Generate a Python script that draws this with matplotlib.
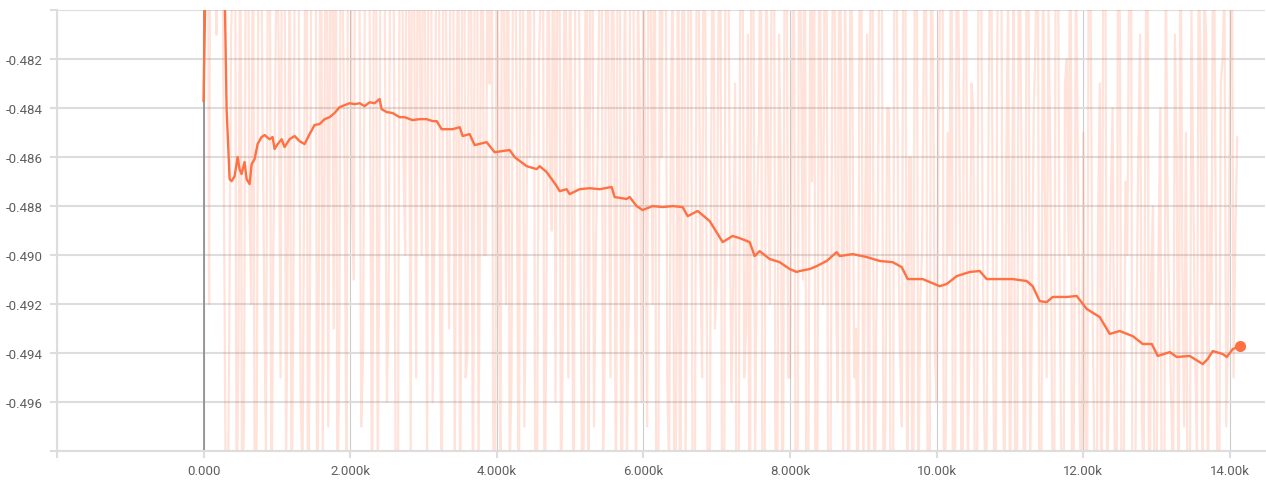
import numpy as np
import matplotlib.pyplot as plt

# --- dados: passo de treino e valor (milésimos) ---
# serie bruta (muito ruidosa), passos 0, 50, 100, ...
raw_milli_a = [
    -483.7, -462, -466, -470, -468, -473, -499, -493, -478, -501, -474, -497, -471, -492, -505, -476, -483, -498, -472, -490,
    -476, -495, -470, -489, -502, -473, -481, -499, -468, -492, -478, -503, -471, -486, -497, -474, -469, -494, -480, -500,
    -472, -491, -466, -497, -479, -470, -502, -475, -488, -468, -496, -473, -483, -500, -470, -490, -477, -466, -495, -481,
    -470, -498, -474, -489, -467, -501, -478, -493, -472, -485, -503, -469, -494, -480, -476, -499, -471, -490, -483, -497,
    -473, -500, -481, -469, -495, -477, -504, -472, -491, -486, -470, -498, -479, -502, -474, -489, -496, -471, -493, -482,
    -476, -501, -470, -494, -485, -503, -472, -490, -479, -499, -468, -495, -483, -474, -506, -477, -492, -471, -500, -484,
    -475, -497, -480, -470, -503, -486, -473, -499, -478, -494, -507, -472, -489, -481, -500, -476, -495, -484, -502, -474,
    -491, -478, -504, -472, -496, -483, -500, -475, -493, -507, -479, -488, -473, -502, -486, -477, -498, -481, -505, -474,
    -495, -476, -503, -482, -471, -498, -487, -505, -474, -492, -480, -501, -472, -496, -485, -478, -506, -483, -493, -475,
    -499, -481, -473, -504, -488, -477, -497, -484, -508, -476, -494, -471, -502, -486, -479, -500, -490, -474, -505, -482,
    -496, -478, -503, -485, -472, -499, -481, -507, -476, -493, -484, -501, -475, -497, -488, -480, -505, -473, -494, -486,
    -502, -479, -497, -484, -506, -475, -492, -481, -500, -477, -495, -486, -504, -474, -498, -483, -490, -507, -478, -496,
    -485, -503, -480, -498, -489, -506, -477, -495, -484, -508, -481, -500, -490, -476, -503, -486, -497, -482, -505, -488,
    -499, -484, -507, -488, -496, -481, -503, -490, -485, -505, -487, -498, -483, -479, -501, -492, -486, -504, -482, -497,
    -483, -495, -485.2,
]
# passos intermediarios 25, 75, 125, ...
raw_milli_b = [
    -471, -492, -458, -481, -463, -486, -503, -481, -469, -494, -500, -478, -488, -473, -497, -467, -491, -479, -502, -484,
    -482, -468, -499, -477, -491, -466, -496, -485, -503, -474, -470, -489, -498, -465, -480, -493, -501, -472, -487, -469,
    -488, -465, -478, -494, -469, -487, -475, -499, -467, -482, -492, -470, -504, -476, -486, -469, -498, -481, -472, -490,
    -483, -466, -496, -477, -492, -471, -487, -468, -499, -475, -480, -495, -473, -501, -468, -485, -490, -477, -469, -502,
    -488, -467, -492, -499, -474, -486, -470, -497, -480, -465, -503, -482, -471, -493, -487, -468, -479, -501, -476, -495,
    -490, -472, -481, -505, -469, -478, -497, -486, -471, -493, -484, -475, -502, -470, -489, -498, -474, -486, -479, -496,
    -487, -470, -492, -501, -477, -467, -495, -484, -506, -473, -482, -498, -471, -504, -479, -490, -469, -499, -485, -493,
    -480, -502, -468, -487, -491, -508, -474, -495, -481, -470, -498, -485, -503, -476, -492, -469, -500, -487, -478, -495,
    -484, -500, -473, -491, -507, -479, -470, -497, -486, -475, -504, -482, -491, -471, -499, -488, -474, -495, -502, -480,
    -488, -506, -477, -493, -470, -500, -484, -503, -474, -489, -497, -480, -486, -507, -473, -492, -481, -499, -476, -494,
    -485, -470, -497, -490, -506, -476, -492, -474, -499, -483, -504, -472, -488, -501, -478, -495, -482, -471, -500, -479,
    -489, -505, -472, -491, -478, -499, -484, -470, -503, -487, -480, -497, -475, -490, -508, -482, -471, -495, -486, -501,
    -496, -476, -492, -507, -483, -472, -500, -488, -497, -475, -503, -487, -479, -508, -493, -481, -499, -474, -491, -502,
    -490, -506, -478, -493, -500, -486, -474, -497, -503, -480, -494, -477, -500, -481, -488, -471, -498, -483, -479, -493,
    -474, -489,
]

# serie suavizada
smooth_steps = [
    0, 41, 273, 314, 355, 382, 423, 464, 491, 518, 559, 587, 628, 655, 696, 737, 791, 832, 900, 941,
    969, 1010, 1064, 1105, 1173, 1242, 1310, 1378, 1446, 1514, 1583, 1651, 1719, 1787, 1855, 1924, 1992, 2060, 2128, 2197,
    2265, 2333, 2401, 2428, 2497, 2579, 2674, 2742, 2851, 2947, 3042, 3124, 3179, 3247, 3397, 3493, 3534, 3629, 3697, 3861,
    3970, 4175, 4243, 4407, 4543, 4584, 4680, 4816, 4857, 4952, 4993, 5130, 5266, 5403, 5566, 5607, 5771, 5812, 5907, 5989,
    6126, 6262, 6398, 6535, 6603, 6740, 6903, 7081, 7217, 7313, 7449, 7517, 7585, 7722, 7858, 7995, 8090, 8131, 8268, 8363,
    8500, 8636, 8677, 8854, 9045, 9223, 9400, 9523, 9605, 9809, 10041, 10137, 10273, 10450, 10587, 10682, 10860, 11037, 11228, 11310,
    11405, 11501, 11583, 11774, 11910, 12047, 12224, 12361, 12497, 12675, 12811, 12934, 13016, 13180, 13275, 13452, 13630, 13698, 13766, 13903,
    13957, 14039, 14134,
]
smooth_milli = [
    -483.7, -476.0, -476.5, -484.04, -486.90, -486.98, -486.78, -486.00, -486.49, -486.69, -486.20, -486.90, -487.10, -486.29, -486.08, -485.47, -485.18, -485.10, -485.27, -485.18,
    -485.67, -485.47, -485.27, -485.59, -485.27, -485.14, -485.35, -485.47, -485.06, -484.69, -484.65, -484.45, -484.37, -484.20, -483.96, -483.88, -483.80, -483.84, -483.80, -483.92,
    -483.76, -483.80, -483.63, -484.04, -484.16, -484.20, -484.37, -484.37, -484.49, -484.45, -484.45, -484.53, -484.53, -484.86, -484.86, -484.78, -485.14, -485.06, -485.51, -485.39,
    -485.80, -485.71, -486.00, -486.37, -486.49, -486.37, -486.61, -487.18, -487.39, -487.31, -487.51, -487.31, -487.27, -487.31, -487.22, -487.63, -487.71, -487.63, -488.00, -488.16,
    -488.00, -488.04, -488.00, -488.04, -488.41, -488.20, -488.61, -489.47, -489.22, -489.31, -489.47, -490.04, -489.84, -490.16, -490.29, -490.57, -490.69, -490.65, -490.57, -490.45,
    -490.24, -489.88, -490.04, -489.96, -490.08, -490.24, -490.29, -490.49, -490.98, -490.98, -491.27, -491.18, -490.86, -490.69, -490.65, -490.98, -490.98, -490.98, -491.06, -491.27,
    -491.88, -491.92, -491.71, -491.71, -491.67, -492.20, -492.53, -493.22, -493.10, -493.31, -493.63, -493.63, -494.12, -493.96, -494.16, -494.12, -494.45, -494.24, -493.92, -494.04,
    -494.16, -493.84, -493.71,
]

x_ticks = [-2000, 0, 2000, 4000, 6000, 8000, 10000, 12000, 14000]
x_labels = ['', '0.000', '2.000k', '4.000k', '6.000k', '8.000k', '10.00k', '12.00k', '14.00k']
y_ticks = [-0.498, -0.496, -0.494, -0.492, -0.490, -0.488, -0.486, -0.484, -0.482, -0.480]
y_labels = ['', '-0.496', '-0.494', '-0.492', '-0.490', '-0.488', '-0.486', '-0.484', '-0.482', '']

# junta as duas metades da serie bruta, alternando
raw_steps = np.arange(0, 14101, 25)
raw_values = np.empty(len(raw_milli_a) + len(raw_milli_b))
raw_values[0::2] = raw_milli_a
raw_values[1::2] = raw_milli_b
raw_values = raw_values / 1000
smooth_values = np.array(smooth_milli) / 1000

cor = '#ff7043'
plt.rcParams['font.family'] = ['Roboto', 'DejaVu Sans']

fig = plt.figure(figsize=(12.66, 4.85), dpi=100)
ax = fig.add_axes([0.045, 0.068, 0.954, 0.909])

ax.plot(raw_steps, raw_values, color=cor, alpha=0.2, lw=1.6, zorder=2)
ax.plot(smooth_steps, smooth_values, color=cor, lw=1.7, zorder=3)
ax.plot(smooth_steps[-1], smooth_values[-1], 'o', color=cor, ms=7, zorder=4)

ax.set_xlim(-2000, 14475)
ax.set_ylim(-0.498, -0.480)
ax.set_xticks(x_ticks)
ax.set_xticklabels(x_labels)
ax.set_yticks(y_ticks)
ax.set_yticklabels(y_labels)

ax.grid(True, axis='y', color='#dddddd', lw=1.5, zorder=1)
ax.grid(True, axis='x', color='#cccccc', lw=0.8, zorder=1)
ax.axvline(0, color='#8a8a8a', lw=1.2, zorder=1)
ax.set_axisbelow(True)

for side in ['top', 'right']:
    ax.spines[side].set_visible(False)
for side in ['left', 'bottom']:
    ax.spines[side].set_color('#dddddd')
    ax.spines[side].set_linewidth(1.5)

ax.tick_params(axis='both', colors='#dddddd', labelcolor='#5f5f5f', labelsize=9.5, length=5, width=1.5)
ax.tick_params(axis='y', pad=5)
ax.tick_params(axis='x', pad=4)

fig.savefig('out.png', dpi=100)
